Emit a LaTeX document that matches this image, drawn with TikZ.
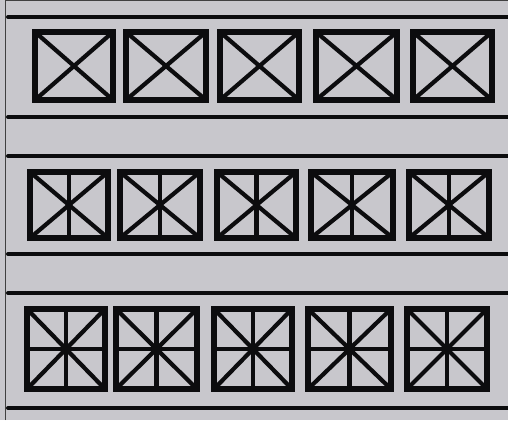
\documentclass[tikz,border=0pt]{standalone}
\usepackage{xcolor}
\usepackage{tikz}
\usetikzlibrary{calc}

\definecolor{paper}{RGB}{200,199,204}
\definecolor{ink}{RGB}{12,12,14}

\tikzset{
  shelf/.style={line width=4pt, ink, line cap=round},
  panel/.style={line width=5.4pt, ink, line join=miter},
  brace/.style={line width=4.2pt, ink}
}

\begin{document}
\begin{tikzpicture}[x=1pt,y=-1pt]
% paper and frame
\fill[paper] (0,0) rectangle (508,420);
\useasboundingbox (0,0) rectangle (508,420);
\draw[gray!50!black, line width=1pt] (5,420) -- (5,1) -- (508,1);

% shelf lines
\foreach \y in {17,117,156,254,293,408}
  \draw[shelf] (8,\y) -- (510,\y);

% row 1: crossed panels
\def\ytop{32}\def\ybot{100}
\foreach \xl/\xr in {35/113,126/206,220/299,316/397,413/492} {
  \draw[brace] (\xl,\ytop) -- (\xr,\ybot) (\xl,\ybot) -- (\xr,\ytop);
  \draw[panel] (\xl,\ytop) rectangle (\xr,\ybot);
}

% row 2: crossed panels with a post
\def\ytop{172}\def\ybot{238}
\foreach \xl/\xr in {30/108,120/200,217/296,311/393,409/489} {
  \draw[brace] (\xl,\ytop) -- (\xr,\ybot) (\xl,\ybot) -- (\xr,\ytop);
  \draw[brace] ({(\xl+\xr)/2},\ytop) -- ({(\xl+\xr)/2},\ybot);
  \draw[panel] (\xl,\ytop) rectangle (\xr,\ybot);
}

% row 3: crossed panels with post and rail
\def\ytop{309}\def\ybot{389}
\foreach \xl/\xr in {27/105,116/197,214/292,308/391,407/487} {
  \draw[brace] (\xl,\ytop) -- (\xr,\ybot) (\xl,\ybot) -- (\xr,\ytop);
  \draw[brace] ({(\xl+\xr)/2},\ytop) -- ({(\xl+\xr)/2},\ybot);
  \draw[brace] (\xl,{(\ytop+\ybot)/2}) -- (\xr,{(\ytop+\ybot)/2});
  \draw[panel] (\xl,\ytop) rectangle (\xr,\ybot);
}
\end{tikzpicture}
\end{document}
